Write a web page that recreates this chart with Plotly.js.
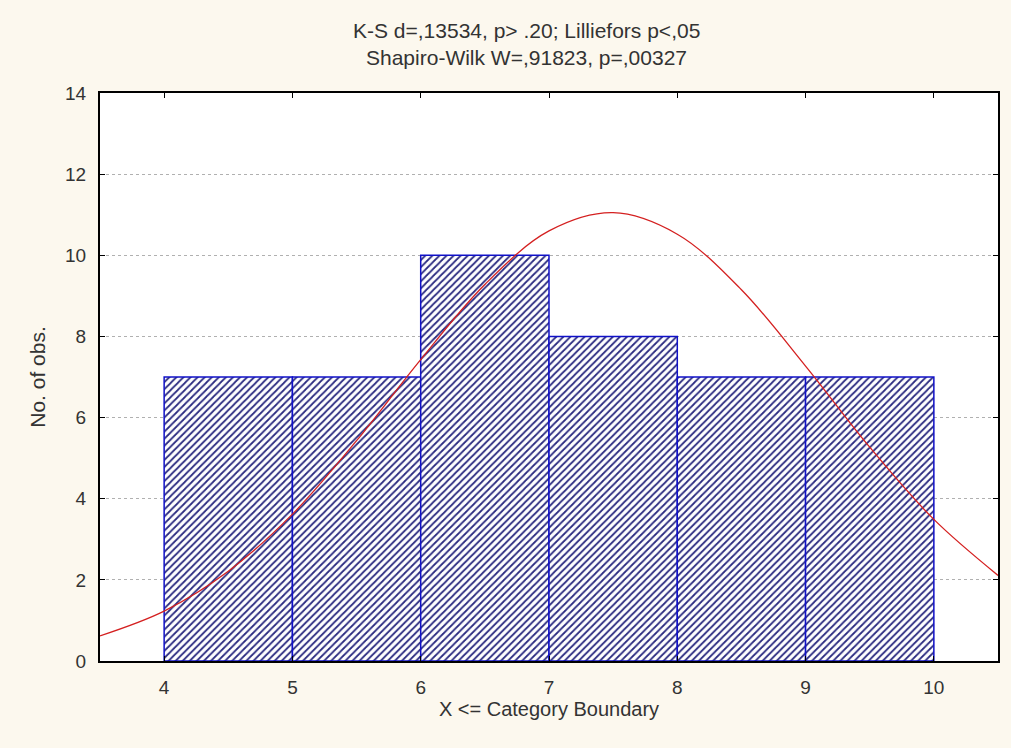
<!DOCTYPE html>
<html>
<head>
<meta charset="utf-8">
<script src="https://cdn.plot.ly/plotly-3.0.1.min.js"></script>
<style>html,body{margin:0;padding:0;background:#fcf8ee;}</style>
</head>
<body>
<div id="chart" style="width:1011px;height:748px;"></div>
<script>
// Histogram bins (upper category boundaries) and counts
const binLower = [4, 5, 6, 7, 8, 9];
const binUpper = [5, 6, 7, 8, 9, 10];
const counts = [7, 7, 10, 8, 7, 7];

// Fitted normal curve
const curveX = [3.5, 4, 4.5, 5, 5.5, 6, 6.5, 7, 7.5, 8, 8.5, 9, 9.5, 10, 10.5];
const curveY = [0.62, 1.23, 2.21, 3.62, 5.43, 7.43, 9.28, 10.60, 11.05, 10.52, 9.15, 7.27, 5.27, 3.49, 2.11];

const xTicks = [4, 5, 6, 7, 8, 9, 10];
const yTicks = [0, 2, 4, 6, 8, 10, 12, 14];

const titleLine1 = "K-S d=,13534, p> .20; Lilliefors p<,05";
const titleLine2 = "Shapiro-Wilk W=,91823, p=,00327";

const centers = binLower.map((l, i) => (l + binUpper[i]) / 2);
const widths = binLower.map((l, i) => binUpper[i] - l);

const FAM = 'Liberation Sans, Arial, sans-serif';
const TXT = '#333333';

const bars = {
  type: 'bar',
  x: centers,
  y: counts,
  width: widths,
  marker: {
    color: '#ffffff',
    line: {color: '#1010c8', width: 1.5},
    pattern: {shape: '/', fgcolor: '#2a2a80', bgcolor: '#ffffff', size: 5, solidity: 0.35}
  },
  hoverinfo: 'x+y',
  showlegend: false
};

const curve = {
  type: 'scatter',
  mode: 'lines',
  x: curveX,
  y: curveY,
  line: {color: '#d42020', width: 1.3, shape: 'spline'},
  showlegend: false
};

const layout = {
  width: 1011,
  height: 748,
  paper_bgcolor: '#fcf8ee',
  plot_bgcolor: '#ffffff',
  margin: {l: 100, r: 13, t: 93, b: 87},
  font: {family: FAM, size: 19, color: TXT},
  bargap: 0,
  xaxis: {
    range: [3.5, 10.5],
    tickvals: xTicks,
    ticktext: xTicks.map(String),
    ticks: 'inside',
    ticklen: 5,
    tickcolor: '#000',
    showline: true,
    linecolor: '#000',
    linewidth: 2,
    mirror: 'ticks',
    showgrid: false,
    zeroline: false,
    ticklabelstandoff: 8,
    tickfont: {family: FAM, size: 19, color: TXT},
    title: {text: 'X <= Category Boundary', standoff: 0, font: {family: FAM, size: 20, color: TXT}}
  },
  yaxis: {
    range: [0, 14],
    tickvals: yTicks,
    ticks: 'inside',
    ticklen: 5,
    tickcolor: '#000',
    showline: true,
    linecolor: '#000',
    linewidth: 2,
    mirror: 'ticks',
    showgrid: true,
    gridcolor: '#b0b0b0',
    griddash: 'dot',
    gridwidth: 1,
    zeroline: false,
    ticklabelstandoff: 8,
    tickfont: {family: FAM, size: 19, color: TXT},
    title: {text: 'No. of obs.', standoff: 14, font: {family: FAM, size: 21, color: TXT}}
  },
  annotations: [
    {text: titleLine1, xref: 'paper', yref: 'paper', x: 0.4755, y: 1, yshift: 76, showarrow: false,
     font: {family: FAM, size: 21, color: TXT}},
    {text: titleLine2, xref: 'paper', yref: 'paper', x: 0.4755, y: 1, yshift: 49, showarrow: false,
     font: {family: FAM, size: 21, color: TXT}}
  ]
};

Plotly.newPlot('chart', [bars, curve], layout, {displayModeBar: false, staticPlot: true});
</script>
</body>
</html>
